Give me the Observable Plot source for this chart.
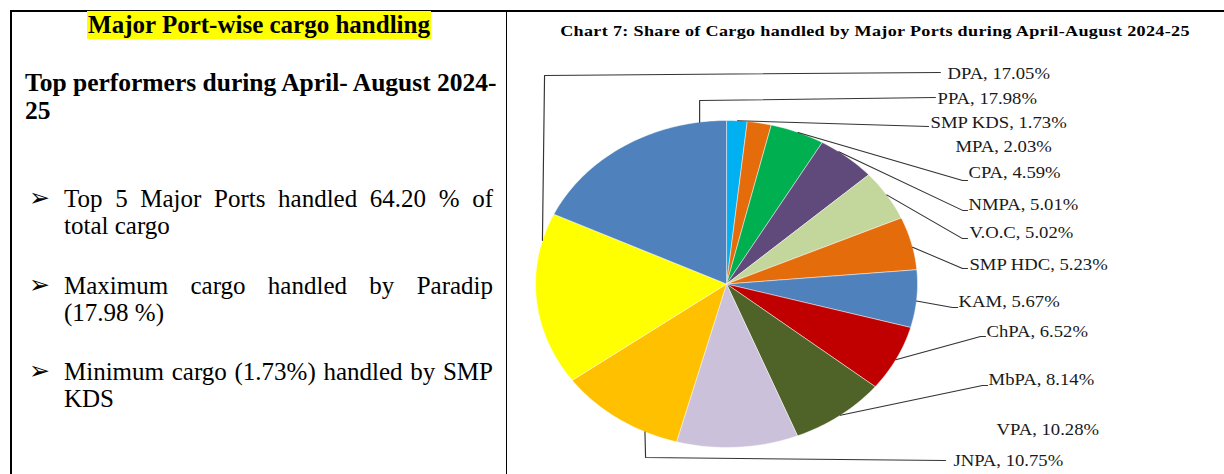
<!DOCTYPE html>
<html><head><meta charset="utf-8">
<script src="https://cdn.jsdelivr.net/npm/d3@7"></script>
<script src="https://cdn.jsdelivr.net/npm/@observablehq/plot@0.6"></script>
<style>
html,body{margin:0;padding:0;background:#fff;width:1224px;height:474px;overflow:hidden;}
body{position:relative;font-family:"Liberation Serif","Times New Roman",serif;color:#000;}
.rule{position:absolute;background:#000;}
#head{position:absolute;left:12px;width:494px;top:11px;text-align:center;font-weight:bold;font-size:25px;line-height:28px;}
#head span{background:#ffff00;display:inline-block;padding:0 1px;}
#top{position:absolute;left:25px;top:69px;font-weight:bold;font-size:25.5px;line-height:28px;white-space:nowrap;}
.bullet{position:absolute;left:64px;width:429px;font-size:25px;line-height:27px;}
.l1{text-align:justify;text-align-last:justify;white-space:nowrap;}
.arrow{position:absolute;left:-35px;top:-1px;font-family:"DejaVu Sans",sans-serif;font-size:25px;line-height:27px;}
#right{position:absolute;left:510px;top:0;width:611px;height:474px;transform:scaleX(1.168);transform-origin:0 0;}
#ctitle{position:absolute;left:7px;width:611px;top:22px;text-align:center;font-weight:bold;font-size:15.5px;line-height:18px;white-space:nowrap;}
#chart{position:absolute;left:0;top:45px;}
</style></head><body>
<div class="rule" style="left:10px;top:10px;width:1214px;height:2px"></div>
<div class="rule" style="left:10px;top:10px;width:2px;height:464px"></div>
<div class="rule" style="left:506px;top:10px;width:1px;height:464px"></div>

<div id="head"><span>Major Port-wise cargo handling</span></div>
<div id="top">Top performers during April- August 2024-<br>25</div>

<div class="bullet" style="top:185px"><span class="arrow">➢</span><div class="l1">Top 5 Major Ports handled 64.20 % of</div><div>total cargo</div></div>
<div class="bullet" style="top:272px"><span class="arrow">➢</span><div class="l1">Maximum cargo handled by Paradip</div><div>(17.98 %)</div></div>
<div class="bullet" style="top:358px"><span class="arrow">➢</span><div class="l1">Minimum cargo (1.73%) handled by SMP</div><div>KDS</div></div>

<div id="right">
  <div id="ctitle"><span id="ctitleText">Chart 7: Share of Cargo handled by Major Ports during April-August 2024-25</span></div>
  <div id="chart"></div>
</div>

<script>
// ---- data ----
const ports = ["SMP KDS","MPA","CPA","NMPA","V.O.C","SMP HDC","KAM","ChPA","MbPA","VPA","JNPA","DPA","PPA"];
const shares = [1.73,2.03,4.59,5.01,5.02,5.23,5.67,6.52,8.14,10.28,10.75,17.05,17.98];
const sliceColors = ["#00b0f0","#e46c0a","#00b050","#604a7b","#c3d69b","#e46c0a","#4f81bd","#c00000","#4f6228","#ccc1da","#ffc000","#ffff00","#4f81bd"];

// ---- label layout (in pie-radius units; annotation placement only) ----
const labelX = [1.068,1.199,1.267,1.267,1.272,1.272,1.215,1.361,1.372,1.414,1.188,1.157,1.105];
const labelY = [0.988,0.841,0.682,0.486,0.315,0.119,-0.107,-0.291,-0.584,-0.890,-1.080,1.287,1.135];
// leader: anchor angle on the rim (deg, clockwise from top) + bend points; null = no leader
const leaderAngle = [3.3,null,22,36,57,77,96,117.6,143.4,null,205.3,285.4,351.9];
const leaderBends = [
  [[1.058,0.963]],
  null,
  [[1.236,0.633],[1.262,0.633]],
  [[1.236,0.450],[1.262,0.450]],
  [[1.236,0.278],[1.262,0.278]],
  [[1.236,0.095],[1.262,0.095]],
  [[1.183,-0.144],[1.210,-0.144]],
  [[1.330,-0.321],[1.356,-0.321]],
  [[1.340,-0.621],[1.367,-0.621]],
  null,
  [[-0.424,-1.061],[1.147,-1.080]],
  [[-0.953,1.275],[1.120,1.294]],
  [[-0.141,1.122],[1.094,1.141]]
];

// ---- build pie polygons ----
const pieRows = [];
let cum = 0;
const total = d3.sum(shares);
ports.forEach((name, i) => {
  const a0 = cum / total * 2 * Math.PI;
  cum += shares[i];
  const a1 = cum / total * 2 * Math.PI;
  const steps = Math.max(2, Math.ceil((a1 - a0) / (Math.PI / 180)));
  pieRows.push({name, x: 0, y: 0});
  for (let k = 0; k <= steps; k++) {
    const a = a0 + (a1 - a0) * k / steps;
    pieRows.push({name, x: Math.sin(a), y: Math.cos(a)});
  }
  pieRows.push({name, x: 0, y: 0});
});

const leaderRows = [];
ports.forEach((name, i) => {
  if (leaderAngle[i] == null) return;
  const a = leaderAngle[i] * Math.PI / 180;
  leaderRows.push({name, x: Math.sin(a), y: Math.cos(a)});
  leaderBends[i].forEach(([x, y]) => leaderRows.push({name, x, y}));
});

const labelRows = ports.map((name, i) => ({
  x: labelX[i], y: labelY[i], text: `${name}, ${shares[i].toFixed(2)}%`
}));

const cx = 184.9, r = 163.5;
const chart = Plot.plot({
  width: 611,
  height: 429,
  margin: 0,
  style: {fontFamily: '"Liberation Serif","Times New Roman",serif', background: "transparent", overflow: "visible"},
  x: {domain: [-1, 1], range: [cx - r, cx + r], axis: null},
  y: {domain: [-1, 1], range: [402, 75], axis: null},
  color: {domain: ports.map((p, i) => p + "#" + i), range: sliceColors},
  marks: [
    Plot.line(pieRows, {x: "x", y: "y", z: "name", fill: d => d.name + "#" + ports.indexOf(d.name), stroke: "#ffffff", strokeWidth: 0.6, strokeOpacity: 0.7, curve: "linear"}),
    Plot.line(leaderRows, {x: "x", y: "y", z: "name", stroke: "#333333", strokeWidth: 1, curve: "linear"}),
    Plot.text(labelRows, {x: "x", y: "y", text: "text", textAnchor: "start", fontSize: 16, fill: "#1a1a1a"})
  ]
});
document.getElementById("chart").appendChild(chart);

// fit title to its width in the reference
const ts = document.getElementById("ctitleText");
const txt = ts.textContent;
const w = ts.offsetWidth;
ts.style.letterSpacing = ((538.5 - w) / (txt.length - 1)) + "px";
</script>
</body></html>
